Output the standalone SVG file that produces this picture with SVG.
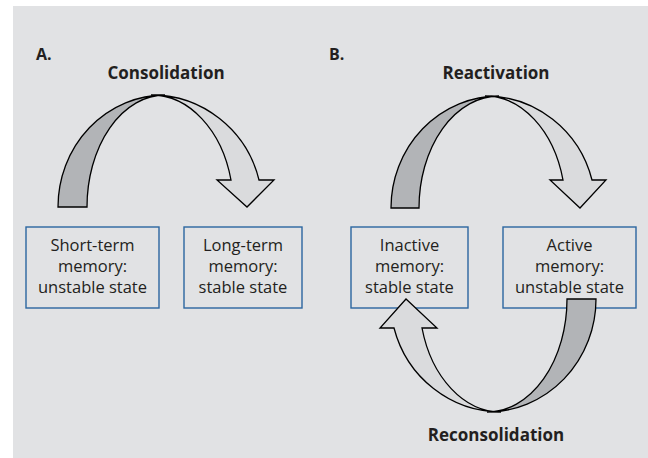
<svg xmlns="http://www.w3.org/2000/svg" width="648" height="458" viewBox="0 0 648 458">
<style>
.t{font-family:"Open Sans","Liberation Sans",sans-serif;fill:#231f20}
.lbl{font-size:16.5px;text-anchor:middle}
.hd{font-size:17px;font-weight:bold;text-anchor:middle}
.pl{font-size:16px;font-weight:bold}
.box{fill:#e1e2e4;stroke:#2b66a0;stroke-width:1.4}
.dk{fill:#b2b4b7;stroke:#000;stroke-width:1.3;stroke-linejoin:miter}
.lt{fill:#dadbdd;stroke:#000;stroke-width:1.3;stroke-linejoin:miter}
</style>
<rect x="13" y="6" width="635" height="452" fill="#e1e2e4"/>
<text class="t pl" x="36" y="60">A.</text>
<text class="t pl" x="329" y="60">B.</text>
<text class="t hd" x="166" y="79">Consolidation</text>
<text class="t hd" x="496" y="79">Reactivation</text>
<text class="t hd" x="496" y="441">Reconsolidation</text>

<g id="short-term">
<rect class="box" x="26" y="227" width="133" height="81"/>
<text class="t lbl" x="92.5" y="251">Short-term</text>
<text class="t lbl" x="92.5" y="272">memory:</text>
<text class="t lbl" x="92.5" y="293">unstable state</text>
</g>
<g id="long-term">
<rect class="box" x="184" y="227" width="118" height="81"/>
<text class="t lbl" x="243" y="251">Long-term</text>
<text class="t lbl" x="243" y="272">memory:</text>
<text class="t lbl" x="243" y="293">stable state</text>
</g>
<g id="inactive">
<rect class="box" x="351" y="227" width="117" height="81"/>
<text class="t lbl" x="409.5" y="251">Inactive</text>
<text class="t lbl" x="409.5" y="272">memory:</text>
<text class="t lbl" x="409.5" y="293">stable state</text>
</g>
<g id="active">
<rect class="box" x="503" y="227" width="133" height="81"/>
<text class="t lbl" x="569.5" y="251">Active</text>
<text class="t lbl" x="569.5" y="272">memory:</text>
<text class="t lbl" x="569.5" y="293">unstable state</text>
</g>

<g id="connectors">
<!-- Consolidation -->
<path class="dk" d="M58,207 A107,112 0 0 1 165,95 A78,112 0 0 0 87,207 Z"/>
<path class="lt" d="M151,95 A110.5,112 0 0 1 259,180 L274,180 L247,207 L217,180 L231,180 A82,112 0 0 0 151,95 Z"/>
<!-- Reactivation -->
<path class="dk" d="M391,208 A108,112 0 0 1 499,96 A80,112 0 0 0 419,208 Z"/>
<path class="lt" d="M485,96 A110,112 0 0 1 592,180 L606,180 L580,208 L550,180 L563,180 A80.5,112 0 0 0 485,96 Z"/>
<!-- Reconsolidation -->
<path class="dk" d="M596,299 A109,113 0 0 1 487,412 A80,113 0 0 0 567,299 Z"/>
<path class="lt" d="M501,412 A110.7,113 0 0 1 394,328 L380,328 L406,299 L437,328 L422,328 A81.7,113 0 0 0 501,412 Z"/>
</g>
</svg>
